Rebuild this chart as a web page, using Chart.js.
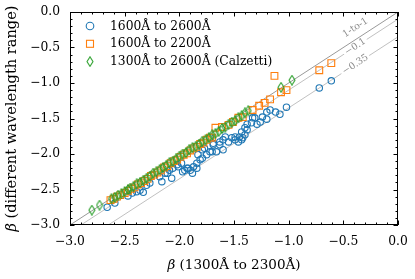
<!DOCTYPE html>
<html>
<head>
<meta charset="utf-8">
<script src="https://cdn.jsdelivr.net/npm/chart.js@4"></script>
<style>
  html, body { margin: 0; padding: 0; background: #fff; }
</style>
</head>
<body>
<canvas id="chart" width="415" height="279"></canvas>
<script>
// beta (1300-2300A) vs beta from other wavelength ranges
var blueX = [-2.66,-2.59,-2.47,-2.43,-2.39,-2.36,-2.33,-2.30,-2.27,-2.18,-2.16,-2.13,-2.11,-2.09,-2.06,-2.07,-2.02,-2.01,-1.98,-1.97,-1.95,-1.93,-1.92,-1.90,-1.88,-1.87,-1.84,-1.84,-1.83,-1.81,-1.79,-1.79,-1.77,-1.75,-1.72,-1.72,-1.70,-1.69,-1.69,-1.66,-1.63,-1.63,-1.60,-1.60,-1.58,-1.55,-1.52,-1.49,-1.49,-1.46,-1.45,-1.43,-1.43,-1.42,-1.40,-1.40,-1.38,-1.38,-1.34,-1.33,-1.31,-1.29,-1.26,-1.24,-1.20,-1.20,-1.17,-1.12,-1.08,-1.02,-0.72,-0.61];
var blueY = [-2.75,-2.69,-2.59,-2.55,-2.53,-2.51,-2.54,-2.44,-2.41,-2.32,-2.39,-2.27,-2.27,-2.23,-2.20,-2.34,-2.15,-2.18,-2.13,-2.25,-2.23,-2.20,-2.20,-2.23,-2.27,-2.18,-2.20,-2.13,-2.01,-2.08,-1.94,-2.06,-1.92,-2.01,-1.97,-1.77,-1.97,-1.85,-1.87,-1.97,-1.87,-1.83,-1.94,-1.80,-1.76,-1.83,-1.77,-1.76,-1.80,-1.83,-1.76,-1.69,-1.80,-1.77,-1.63,-1.73,-1.58,-1.66,-1.56,-1.49,-1.49,-1.58,-1.55,-1.48,-1.51,-1.41,-1.38,-1.41,-1.44,-1.34,-1.07,-0.97];

var orangeX = [-2.63,-2.60,-2.57,-2.54,-2.50,-2.47,-2.44,-2.41,-2.38,-2.35,-2.32,-2.29,-2.26,-2.23,-2.20,-2.17,-2.14,-2.11,-2.08,-2.05,-2.02,-1.99,-1.96,-1.93,-1.90,-1.87,-1.84,-1.81,-1.78,-1.75,-1.72,-1.70,-1.67,-1.61,-1.55,-1.51,-1.46,-1.42,-1.33,-1.27,-1.22,-1.17,-1.13,-1.07,-1.02,-0.72,-0.61];
var orangeY = [-2.65,-2.63,-2.60,-2.58,-2.55,-2.52,-2.49,-2.47,-2.43,-2.41,-2.38,-2.35,-2.31,-2.29,-2.26,-2.23,-2.19,-2.17,-2.13,-2.10,-2.08,-2.04,-2.01,-1.99,-1.95,-1.92,-1.90,-1.86,-1.84,-1.80,-1.77,-1.77,-1.63,-1.62,-1.59,-1.55,-1.49,-1.48,-1.38,-1.32,-1.28,-1.23,-0.90,-1.13,-1.10,-0.82,-0.72];

var greenX = [-2.80,-2.73,-2.62,-2.59,-2.56,-2.53,-2.50,-2.47,-2.45,-2.42,-2.39,-2.36,-2.33,-2.30,-2.27,-2.24,-2.21,-2.18,-2.15,-2.12,-2.09,-2.06,-2.03,-2.00,-1.97,-1.94,-1.91,-1.88,-1.85,-1.82,-1.79,-1.76,-1.73,-1.70,-1.67,-1.64,-1.61,-1.58,-1.55,-1.52,-1.49,-1.46,-1.43,-1.40,-1.37,-1.07,-0.97];
var greenY = [-2.79,-2.72,-2.63,-2.61,-2.58,-2.56,-2.53,-2.50,-2.48,-2.46,-2.42,-2.40,-2.37,-2.34,-2.31,-2.27,-2.25,-2.22,-2.19,-2.16,-2.12,-2.10,-2.07,-2.03,-2.00,-1.98,-1.94,-1.91,-1.89,-1.86,-1.82,-1.80,-1.77,-1.73,-1.71,-1.68,-1.64,-1.62,-1.58,-1.55,-1.53,-1.49,-1.46,-1.42,-1.39,-1.06,-0.96];

var seriesNames = ['1600\u00c5 to 2600\u00c5', '1600\u00c5 to 2200\u00c5', '1300\u00c5 to 2600\u00c5 (Calzetti)'];
var offsets = [0, -0.1, -0.35];
var offsetLabels = ['1-to-1', '\u22120.1', '\u22120.35'];
var xTitle = ' (1300\u00c5 to 2300\u00c5)';
var yTitle = ' (different wavelength range)';

var BLUE = '#1f77b4', ORANGE = '#ff7f0e', GREEN = '#2ca02c';
var FONT = "'DejaVu Serif', serif";

function pts(xs, ys) {
    var out = [];
    for (var i = 0; i < xs.length; i++) out.push({x: xs[i], y: ys[i]});
    return out;
}

// thin diamond marker like matplotlib 'd'
var diamond = document.createElement('canvas');
diamond.width = 8; diamond.height = 11;
(function () {
    var c = diamond.getContext('2d');
    c.strokeStyle = GREEN; c.lineWidth = 1.1;
    c.beginPath();
    c.moveTo(4, 0.8); c.lineTo(7, 5.5); c.lineTo(4, 10.2); c.lineTo(1, 5.5); c.closePath();
    c.stroke();
})();

function fmt(v) {
    var s = Math.abs(v).toFixed(1);
    return v < -1e-9 ? '\u2212' + s : s;
}

// axis title with italic beta, centred on (0,0) of the current transform
function betaTitle(ctx, rest, size) {
    ctx.font = 'italic ' + size + 'px ' + FONT;
    var wb = ctx.measureText('\u03b2').width;
    ctx.font = size + 'px ' + FONT;
    var wr = ctx.measureText(rest).width;
    var x0 = -(wb + wr) / 2;
    ctx.textAlign = 'left';
    ctx.textBaseline = 'middle';
    ctx.font = 'italic ' + size + 'px ' + FONT;
    ctx.fillText('\u03b2', x0, 0);
    ctx.font = size + 'px ' + FONT;
    ctx.fillText(rest, x0 + wb, 0);
}

// reference lines y = x + off
var refSets = offsets.map(function (off, i) {
    return {
        type: 'line',
        data: [{x: -3, y: -3 + off}, {x: 0, y: off}],
        borderColor: i === 0 ? '#999' : '#b0b0b0',
        borderWidth: i === 0 ? 1 : 0.8,
        pointRadius: 0,
        fill: false,
        order: 10
    };
});

var framePlugin = {
    id: 'frame',
    afterDraw: function (chart) {
        var ctx = chart.ctx, a = chart.chartArea;
        var xs = chart.scales.x, ys = chart.scales.y;
        ctx.save();
        // line labels
        ctx.font = '9.5px ' + FONT;
        ctx.textAlign = 'center';
        ctx.textBaseline = 'middle';
        var lx = -0.39;
        offsets.forEach(function (off, i) {
            var p1 = [xs.getPixelForValue(-1), ys.getPixelForValue(-1 + off)];
            var p2 = [xs.getPixelForValue(0), ys.getPixelForValue(off)];
            var ang = Math.atan2(p2[1] - p1[1], p2[0] - p1[0]);
            var px = xs.getPixelForValue(lx), py = ys.getPixelForValue(lx + off);
            if (i === 0) py -= 12;
            ctx.save();
            ctx.translate(px, py);
            ctx.rotate(ang);
            var w = ctx.measureText(offsetLabels[i]).width;
            if (i !== 0) {
                ctx.fillStyle = '#fff';
                ctx.fillRect(-w / 2 - 2, -4, w + 4, 8);
            }
            ctx.fillStyle = '#8c8c8c';
            ctx.fillText(offsetLabels[i], 0, 0);
            ctx.restore();
        });
        // frame
        ctx.strokeStyle = '#000';
        ctx.lineWidth = 1;
        ctx.strokeRect(a.left + 0.5, a.top + 0.5, a.right - a.left - 1, a.bottom - a.top - 1);
        // inward ticks on all sides
        ctx.beginPath();
        for (var i = -30; i <= 0; i++) {
            var len = (i % 5 === 0) ? 4.5 : 2.5;
            var x = Math.round(xs.getPixelForValue(i / 10)) + 0.5;
            ctx.moveTo(x, a.bottom); ctx.lineTo(x, a.bottom - len);
            ctx.moveTo(x, a.top); ctx.lineTo(x, a.top + len);
            var y = Math.round(ys.getPixelForValue(i / 10)) + 0.5;
            ctx.moveTo(a.left, y); ctx.lineTo(a.left + len, y);
            ctx.moveTo(a.right, y); ctx.lineTo(a.right - len, y);
        }
        ctx.stroke();
        // axis titles
        ctx.fillStyle = '#000';
        ctx.save();
        ctx.translate((a.left + a.right) / 2, 265);
        betaTitle(ctx, xTitle, 13.5);
        ctx.restore();
        ctx.save();
        ctx.translate(12, (a.top + a.bottom) / 2);
        ctx.rotate(-Math.PI / 2);
        betaTitle(ctx, yTitle, 14.6);
        ctx.restore();
        // legend
        var lgX = a.left + 20, lgY = a.top + 14, rowH = 17.8;
        ctx.font = '12.3px ' + FONT;
        ctx.textAlign = 'left';
        ctx.textBaseline = 'middle';
        ctx.lineWidth = 1.1;
        ctx.strokeStyle = BLUE;
        ctx.beginPath(); ctx.arc(lgX, lgY, 3.8, 0, Math.PI * 2); ctx.stroke();
        ctx.strokeStyle = ORANGE;
        ctx.strokeRect(lgX - 3.5, lgY + rowH - 3.5, 7, 7);
        ctx.drawImage(diamond, lgX - 4, lgY + 2 * rowH - 5.5);
        seriesNames.forEach(function (n, k) {
            ctx.fillText(n, lgX + 20, lgY + k * rowH + 0.5);
        });
        ctx.restore();
    }
};

new Chart(document.getElementById('chart'), {
    type: 'scatter',
    data: {
        datasets: refSets.concat([
            {label: seriesNames[0], data: pts(blueX, blueY), pointStyle: 'circle', pointRadius: 3.2,
             borderColor: BLUE, backgroundColor: 'rgba(0,0,0,0)', borderWidth: 1.1, order: 3},
            {label: seriesNames[1], data: pts(orangeX, orangeY), pointStyle: 'rect', pointRadius: 4.8,
             borderColor: ORANGE, backgroundColor: 'rgba(0,0,0,0)', borderWidth: 1.1, order: 2},
            {label: seriesNames[2], data: pts(greenX, greenY), pointStyle: diamond, pointRadius: 5,
             borderColor: GREEN, backgroundColor: 'rgba(0,0,0,0)', borderWidth: 1, order: 1}
        ])
    },
    options: {
        responsive: false,
        animation: false,
        layout: {padding: {top: 12, right: 17, left: 0, bottom: 0}},
        plugins: {legend: {display: false}, tooltip: {enabled: false}},
        scales: {
            x: {
                type: 'linear', min: -3, max: 0,
                grid: {display: false, drawTicks: false}, border: {display: false},
                ticks: {stepSize: 0.5, padding: 9, color: '#000', font: {family: FONT, size: 12.3},
                        callback: function (v) { return fmt(v); }},
                afterFit: function (s) { s.height = 54; s.paddingLeft = 0; s.paddingRight = 0; }
            },
            y: {
                type: 'linear', min: -3, max: 0,
                grid: {display: false, drawTicks: false}, border: {display: false},
                ticks: {stepSize: 0.5, padding: 10, color: '#000', font: {family: FONT, size: 12.3},
                        callback: function (v) { return fmt(v); }},
                afterFit: function (s) { s.width = 70; s.paddingTop = 0; s.paddingBottom = 0; }
            }
        }
    },
    plugins: [framePlugin]
});
</script>
</body>
</html>
